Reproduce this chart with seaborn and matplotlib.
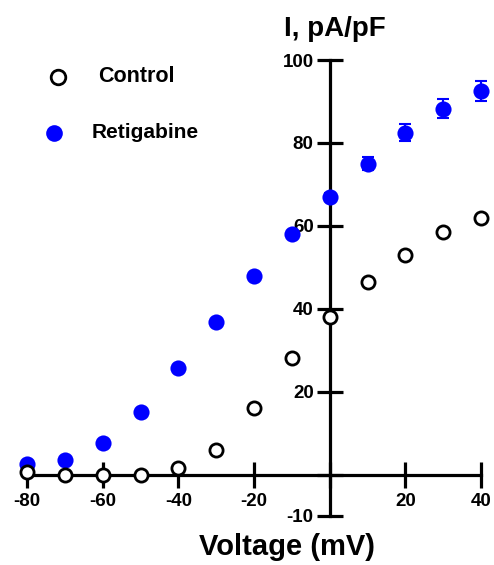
import matplotlib
matplotlib.use("Agg")
import matplotlib.pyplot as plt
import seaborn as sns
import pandas as pd

sns.set_theme(style="white")
plt.rcParams['font.family'] = ['Liberation Sans', 'DejaVu Sans']
plt.rcParams['font.weight'] = 'bold'

voltage = [-80, -70, -60, -50, -40, -30, -20, -10, 0, 10, 20, 30, 40]
control = [0.5, 0.0, 0.0, -0.2, 1.5, 6.0, 16.0, 28.0, 38.0, 46.5, 53.0, 58.5, 62.0]
retigabine = [2.6, 3.6, 7.5, 15.0, 25.8, 36.9, 48.0, 58.0, 67.0, 75.0, 82.5, 88.3, 92.6]
retigabine_err = [0.3, 0.3, 0.3, 0.3, 0.4, 0.5, 0.6, 0.8, 1.0, 1.5, 2.0, 2.2, 2.4]
xticks = [-80, -60, -40, -20, 0, 20, 40]
xticklabels = ['-80', '-60', '-40', '-20', '', '20', '40']
yticks = [-10, 0, 20, 40, 60, 80, 100]
yticklabels = ['-10', '', '20', '40', '60', '80', '100']

df = pd.DataFrame({
    'Voltage': voltage * 2,
    'Current': control + retigabine,
    'Group': ['Control'] * len(voltage) + ['Retigabine'] * len(voltage),
})

W, H = 494, 565
fig = plt.figure(figsize=(W / 100, H / 100), dpi=100)
ax = fig.add_axes([27 / W, 49 / H, 454 / W, 456 / H])
ax.set_facecolor('none')

ax.errorbar(voltage, retigabine, yerr=retigabine_err, fmt='none', ecolor='#0000ff',
            elinewidth=1.5, capsize=4, capthick=1.5, zorder=3, clip_on=False)
sns.scatterplot(data=df[df.Group == 'Retigabine'], x='Voltage', y='Current', ax=ax,
                color='#0000ff', s=135, edgecolor='#0000ff', linewidth=0, zorder=4,
                clip_on=False, legend=False)
sns.scatterplot(data=df[df.Group == 'Control'], x='Voltage', y='Current', ax=ax,
                color='white', s=90, edgecolor='black', linewidth=2, zorder=5,
                clip_on=False, legend=False)

ax.set_xlim(-80, 40)
ax.set_ylim(-10, 100)
for s in ['top', 'right']:
    ax.spines[s].set_visible(False)
ax.spines['left'].set_position(('data', 0))
ax.spines['bottom'].set_position(('data', 0))
for s in ['left', 'bottom']:
    ax.spines[s].set_linewidth(2.3)
    ax.spines[s].set_color('black')
    ax.spines[s].set_zorder(2)

ax.set_xticks(xticks)
ax.set_xticklabels(xticklabels)
ax.set_yticks(yticks)
ax.set_yticklabels(yticklabels)
ax.tick_params(axis='both', direction='inout', length=19, width=2.3, color='black',
               labelsize=13.5, labelcolor='black', left=True, bottom=True)
ax.tick_params(axis='x', pad=4)
ax.tick_params(axis='y', pad=2)
for lbl in ax.get_xticklabels() + ax.get_yticklabels():
    lbl.set_fontweight('bold')
ax.set_xlabel('')
ax.set_ylabel('')
ax.grid(False)

fig.text(335 / W, 1 - 36 / H, 'I, pA/pF', ha='center', va='baseline',
         fontsize=20, fontweight='bold', color='black')
fig.text(287 / W, 1 - 555 / H, 'Voltage (mV)', ha='center', va='baseline',
         fontsize=21, fontweight='bold', color='black')

# legend
fig.lines.append(plt.Line2D([58 / W], [1 - 77 / H], marker='o', markersize=10.5,
                            markerfacecolor='white', markeredgecolor='black',
                            markeredgewidth=2, linestyle='none',
                            transform=fig.transFigure))
fig.lines.append(plt.Line2D([54 / W], [1 - 133 / H], marker='o', markersize=12,
                            markerfacecolor='#0000ff', markeredgecolor='#0000ff',
                            markeredgewidth=0, linestyle='none',
                            transform=fig.transFigure))
fig.text(98 / W, 1 - 77 / H, 'Control', ha='left', va='center',
         fontsize=15.5, fontweight='bold', color='black')
fig.text(92 / W, 1 - 133 / H, 'Retigabine', ha='left', va='center',
         fontsize=15, fontweight='bold', color='black')

fig.savefig('out.png', dpi=100)
